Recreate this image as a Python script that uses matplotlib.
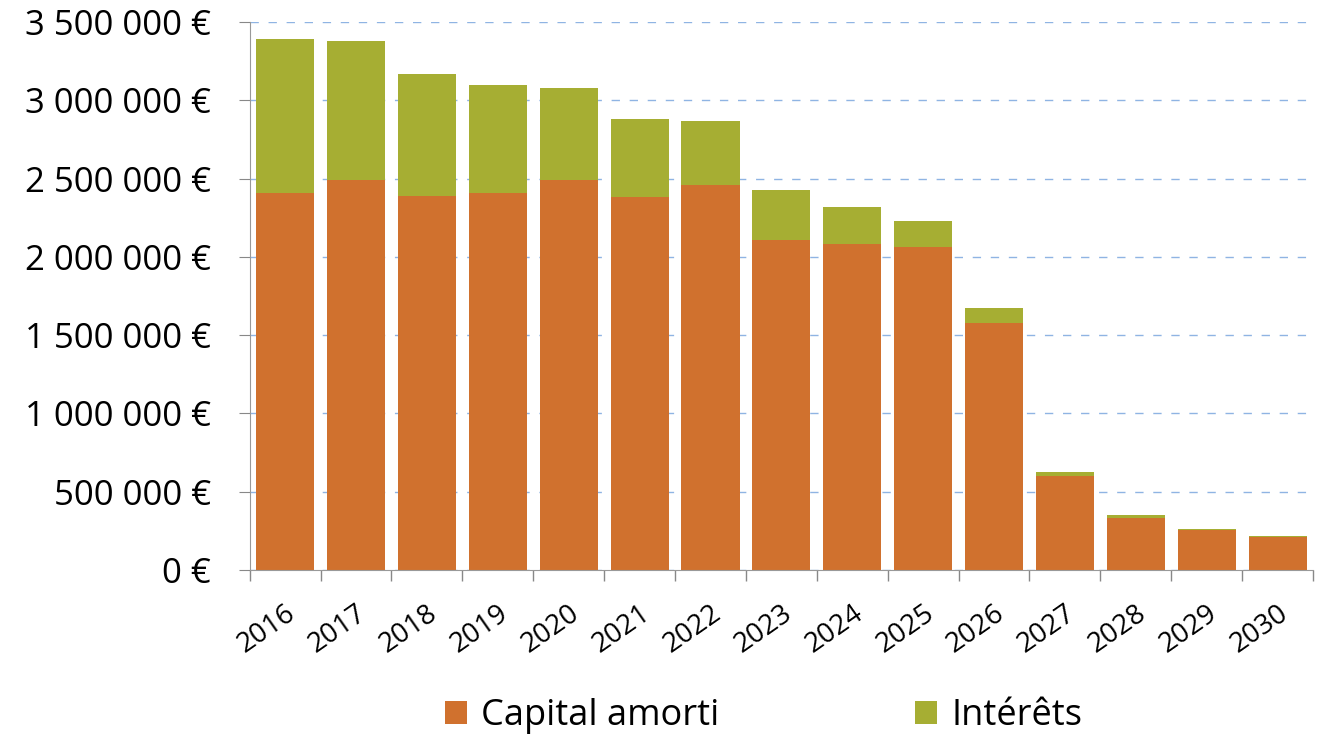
import matplotlib.pyplot as plt
import numpy as np
from matplotlib.ticker import FuncFormatter, FixedLocator

years = ["2016", "2017", "2018", "2019", "2020", "2021", "2022", "2023",
         "2024", "2025", "2026", "2027", "2028", "2029", "2030"]
capital = [2410000, 2490000, 2390000, 2410000, 2490000, 2385000, 2460000, 2110000,
           2085000, 2065000, 1580000, 603000, 333000, 253000, 211000]
total = [3395000, 3380000, 3170000, 3095000, 3080000, 2880000, 2865000, 2430000,
         2320000, 2230000, 1675000, 627000, 350000, 262000, 220000]
interets = [t - c for t, c in zip(total, capital)]

plt.rcParams["font.family"] = ["Open Sans", "DejaVu Sans"]

fig = plt.figure(figsize=(13.21, 7.36), dpi=100)
ax = fig.add_axes([0.189, 0.2255, 0.805, 0.7445])

x = np.arange(len(years))
c_cap = "#D0712E"
c_int = "#A6AE33"
ax.bar(x, capital, width=0.82, color=c_cap, label="Capital amorti", zorder=2)
ax.bar(x, interets, width=0.82, bottom=capital, color=c_int, label="Intérêts", zorder=2)

ax.set_xlim(-0.5, len(years) - 0.5)
ax.set_ylim(0, 3500000)
ax.set_yticks(np.arange(0, 3500001, 500000))
ax.yaxis.set_major_formatter(FuncFormatter(lambda v, p: f"{int(v):,} €".replace(",", " ")))
ax.grid(axis="y", color="#8FB4E3", linestyle=(0, (6, 7)), linewidth=1.0, zorder=0)

ax.set_xticks(x)
ax.set_xticklabels(years, rotation=35, ha="right", rotation_mode="anchor", fontsize=20)
ax.tick_params(axis="x", which="major", length=0, pad=21)
ax.xaxis.set_minor_locator(FixedLocator(np.arange(-0.5, len(years), 1.0)))
ax.tick_params(axis="x", which="minor", length=8, color="#888888", width=1)
ax.tick_params(axis="y", labelsize=25, length=8, color="#888888", pad=20)

for side in ["top", "right"]:
    ax.spines[side].set_visible(False)
ax.spines["left"].set_color("#999999")
ax.spines["bottom"].set_color("#999999")

handles, labels = ax.get_legend_handles_labels()
fig.legend(handles, labels, loc="center", bbox_to_anchor=(0.578, 0.027), ncol=2,
           frameon=False, fontsize=26, handlelength=0.62, handleheight=0.62,
           handletextpad=0.4, columnspacing=5.4)

fig.savefig("out.png", dpi=100)
